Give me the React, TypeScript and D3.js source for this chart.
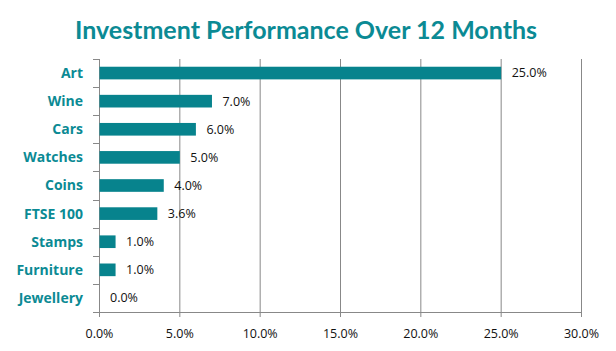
import React from 'react';
import * as d3 from 'd3';

const categories = ['Art', 'Wine', 'Cars', 'Watches', 'Coins', 'FTSE 100', 'Stamps', 'Furniture', 'Jewellery'];
const returns = [25.0, 7.0, 6.0, 5.0, 4.0, 3.6, 1.0, 1.0, 0.0];
const xTicks = [0, 5, 10, 15, 20, 25, 30];

const W = 616;
const H = 351;
const margin = { top: 59, right: 35, bottom: 39, left: 99 };
const teal = '#07838d';
const titleTeal = '#0b8a94';
const grey = '#888888';

export default function App() {
  const innerW = W - margin.left - margin.right;
  const innerH = H - margin.top - margin.bottom;

  const x = d3.scaleLinear().domain([0, 30]).range([0, innerW]);
  const y = d3.scaleBand().domain(categories).range([0, innerH]).paddingInner(0.55).paddingOuter(0.275);
  const step = innerH / categories.length;

  return (
    <svg width={W} height={H} style={{ position: 'absolute', left: 0, top: 0, background: '#fff' }}>
      <text x={306} y={39} textAnchor="middle" fill={titleTeal}
        style={{ fontFamily: 'Lato, sans-serif', fontWeight: 700, fontSize: 25 }}>
        Investment Performance Over 12 Months
      </text>
      <g transform={`translate(${margin.left},${margin.top})`}>
        {/* vertical gridlines */}
        {xTicks.map(t => (
          <line key={t} x1={x(t) + 0.5} x2={x(t) + 0.5} y1={0} y2={innerH + 5}
            stroke={grey} strokeWidth={1} />
        ))}
        {/* x axis */}
        <line x1={0} x2={x(30) + 0.5} y1={innerH + 0.5} y2={innerH + 0.5} stroke={grey} />
        {/* y ticks at category boundaries */}
        {d3.range(categories.length + 1).map(i => (
          <line key={i} x1={-6} x2={0.5} y1={Math.round(i * step) + 0.5} y2={Math.round(i * step) + 0.5} stroke={grey} />
        ))}
        {xTicks.map(t => (
          <text key={'l' + t} x={x(t) + 0.5} y={innerH + 26} textAnchor="middle" fill="#111"
            style={{ fontFamily: 'Open Sans, sans-serif', fontSize: 12.5 }}>
            {t.toFixed(1)}%
          </text>
        ))}
        {categories.map((c, i) => (
          <g key={c}>
            <rect x={x(0) + 0.5} y={y(c)} width={x(returns[i])} height={y.bandwidth()} fill={teal} />
            <text x={x(returns[i]) + 11} y={(y(c) as number) + y.bandwidth() / 2} dy="0.35em" fill="#111"
              style={{ fontFamily: 'Open Sans, sans-serif', fontSize: 12.5 }}>
              {returns[i].toFixed(1)}%
            </text>
            <text x={-16} y={(y(c) as number) + y.bandwidth() / 2} dy="0.35em" textAnchor="end" fill={titleTeal}
              style={{ fontFamily: 'Open Sans, sans-serif', fontWeight: 700, fontSize: 14 }}>
              {c}
            </text>
          </g>
        ))}
      </g>
    </svg>
  );
}
